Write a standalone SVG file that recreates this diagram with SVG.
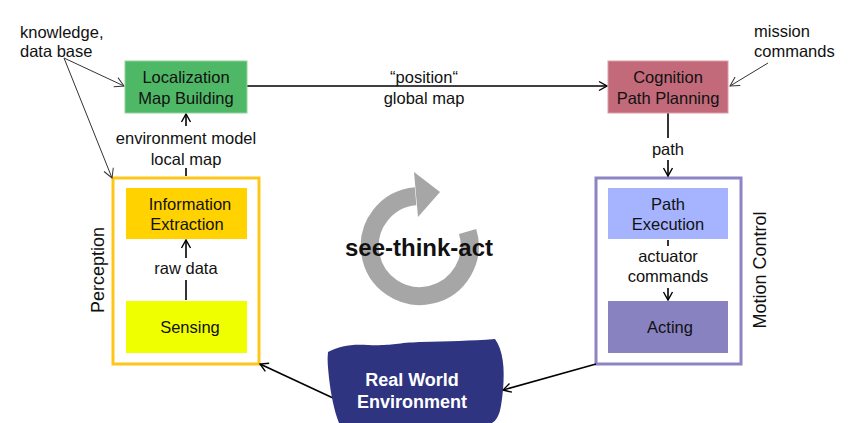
<svg xmlns="http://www.w3.org/2000/svg" width="850" height="423" viewBox="0 0 850 423">
<defs>
<marker id="ah" markerWidth="12" markerHeight="12" refX="10" refY="6" orient="auto" markerUnits="userSpaceOnUse">
<path d="M2,1.5 L10,6 L2,10.5" fill="none" stroke="#000" stroke-width="1.4"/>
</marker>
<marker id="ahg" markerWidth="14" markerHeight="14" refX="11" refY="7" orient="auto" markerUnits="userSpaceOnUse">
<path d="M2,2 L11,7 L2,12" fill="none" stroke="#333" stroke-width="1"/>
</marker>
</defs>
<style>
text{font-family:"Liberation Sans",Arial,sans-serif;fill:#111;}
.t{font-size:16.5px;text-anchor:middle;}
.l{font-size:16.5px;}
.side{font-size:18px;text-anchor:middle;}
.c{stroke:#000;stroke-width:1.6;fill:none;}
.cg{stroke:#333;stroke-width:1;fill:none;}
</style>
<rect width="850" height="423" fill="#fff"/>

<g id="cycle">
<path d="M467.6,231.5 A50,50 0 1 1 415.6,196.2" fill="none" stroke="#a6a6a6" stroke-width="18"/>
<polygon points="414,172 440,192 418,217" fill="#a6a6a6"/>
<text x="419" y="256" font-size="24" font-weight="bold" text-anchor="middle">see-think-act</text>
</g>

<g id="perception">
<rect x="113" y="178" width="146" height="186" fill="none" stroke="#ffc61a" stroke-width="3"/>
<text class="side" transform="translate(104,270) rotate(-90)">Perception</text>
</g>
<g id="motion-control">
<rect x="596" y="178" width="145" height="186" fill="none" stroke="#8c84c4" stroke-width="3"/>
<text class="side" transform="translate(766,270) rotate(-90)">Motion Control</text>
</g>

<g id="connectors">
<line class="c" x1="247" y1="86" x2="607" y2="86" marker-end="url(#ah)"/>
<line class="c" x1="186" y1="176" x2="186" y2="168"/>
<line class="c" x1="186" y1="126" x2="186" y2="114" marker-end="url(#ah)"/>
<line class="c" x1="186" y1="300" x2="186" y2="280"/>
<line class="c" x1="186" y1="258" x2="186" y2="240" marker-end="url(#ah)"/>
<line class="c" x1="668" y1="113" x2="668" y2="138"/>
<line class="c" x1="668" y1="160" x2="668" y2="176" marker-end="url(#ah)"/>
<line class="c" x1="668" y1="240" x2="668" y2="246"/>
<line class="c" x1="668" y1="288" x2="668" y2="300" marker-end="url(#ah)"/>
<line class="cg" x1="64" y1="58" x2="124" y2="86" marker-end="url(#ahg)"/>
<line class="cg" x1="64" y1="58" x2="112" y2="178" marker-end="url(#ahg)"/>
<line class="cg" x1="768" y1="63" x2="730" y2="86" marker-end="url(#ahg)"/>
<line class="c" x1="333" y1="398" x2="260" y2="364" marker-end="url(#ah)"/>
<line class="c" x1="596" y1="364" x2="503" y2="390" marker-end="url(#ah)"/>
</g>

<g id="labels">
<text class="l" x="20" y="38">knowledge,</text>
<text class="l" x="20" y="57">data base</text>
<text class="l" x="754" y="37">mission</text>
<text class="l" x="754" y="57">commands</text>
<text class="t" x="424" y="83">“position“</text>
<text class="t" x="424" y="104">global map</text>
<text class="t" x="186" y="144">environment model</text>
<text class="t" x="186" y="165">local map</text>
<text class="t" x="186" y="274">raw data</text>
<text class="t" x="668" y="155">path</text>
<text class="t" x="668" y="262">actuator</text>
<text class="t" x="668" y="282">commands</text>
</g>

<g id="localization">
<rect x="125" y="61" width="122" height="52" fill="#4fb866" stroke="#8fd49c" stroke-width="1"/>
<text class="t" x="186" y="83">Localization</text>
<text class="t" x="186" y="104">Map Building</text>
</g>
<g id="cognition">
<rect x="608" y="61" width="120" height="52" fill="#c26a7a" stroke="#dd9aa6" stroke-width="1"/>
<text class="t" x="668" y="83">Cognition</text>
<text class="t" x="668" y="104">Path Planning</text>
</g>
<g id="information-extraction">
<rect x="126" y="188" width="121" height="51" fill="#ffd200"/>
<text class="t" x="190" y="210">Information</text>
<text class="t" x="187" y="230">Extraction</text>
</g>
<g id="sensing">
<rect x="126" y="301" width="121" height="52" fill="#efff00"/>
<text class="t" x="190" y="333">Sensing</text>
</g>
<g id="path-execution">
<rect x="608" y="188" width="120" height="51" fill="#a6b4ff"/>
<text class="t" x="668" y="210">Path</text>
<text class="t" x="668" y="230">Execution</text>
</g>
<g id="acting">
<rect x="608" y="301" width="120" height="52" fill="#8882c0"/>
<text class="t" x="670" y="333">Acting</text>
</g>
<g id="real-world">
<path d="M328,352 C340,346 350,344 368,345 C390,346 395,343 420,342 C450,341 470,341 495,339 C503,350 505,368 503,390 C501,408 500,418 492,423 L339,423 C334,410 331,395 329,378 C328,368 327,360 328,352 Z" fill="#2e3480"/>
<text x="412" y="386" font-size="18" font-weight="bold" text-anchor="middle" style="fill:#fff">Real World</text>
<text x="412" y="408" font-size="18" font-weight="bold" text-anchor="middle" style="fill:#fff">Environment</text>
</g>
</svg>
